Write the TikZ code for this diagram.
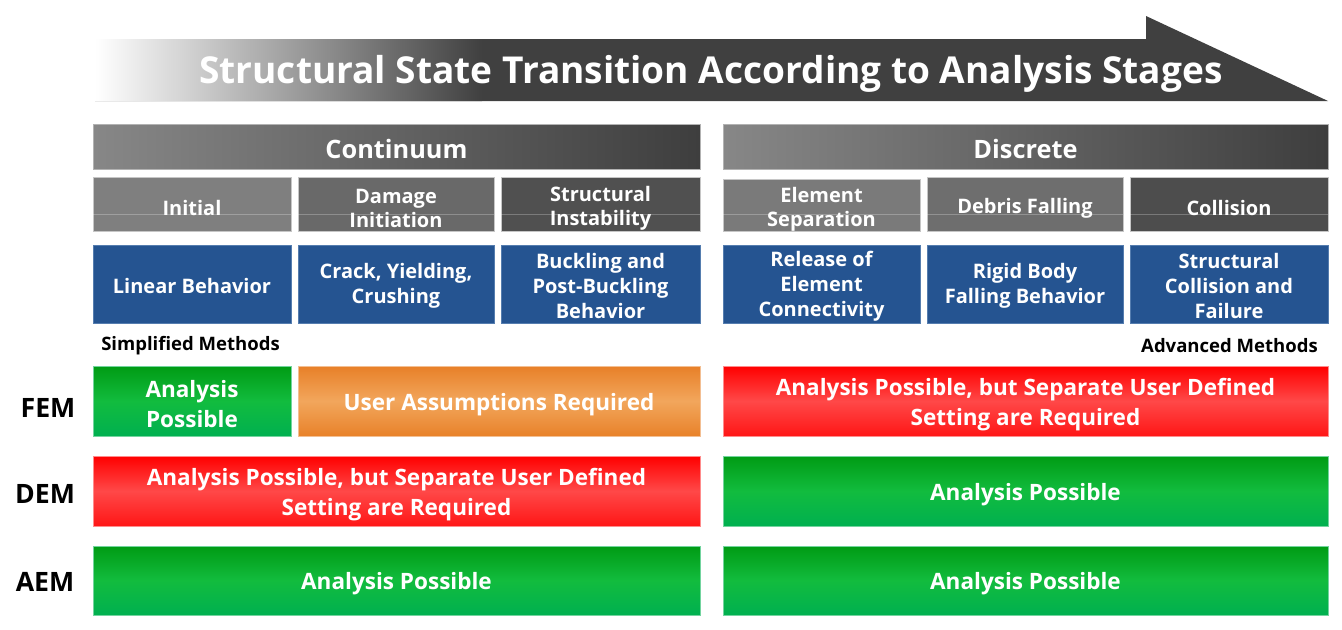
\documentclass[tikz,border=0pt]{standalone}
\usepackage{fontspec}
\setmainfont{Open Sans}
\definecolor{dark}{RGB}{64,64,64}
\definecolor{hdrL}{RGB}{135,135,135}
\definecolor{hdrR}{RGB}{62,62,62}
\definecolor{g1}{RGB}{127,127,127}
\definecolor{g2}{RGB}{105,105,105}
\definecolor{g3}{RGB}{80,80,80}
\definecolor{g4}{RGB}{122,122,122}
\definecolor{g5}{RGB}{110,110,110}
\definecolor{g6}{RGB}{77,77,77}
\definecolor{bluebox}{RGB}{37,84,145}
\definecolor{blueedge}{RGB}{85,125,175}
\definecolor{grT}{RGB}{0,155,20}
\definecolor{grM}{RGB}{18,188,62}
\definecolor{grB}{RGB}{0,176,80}
\definecolor{rdT}{RGB}{255,0,0}
\definecolor{rdM}{RGB}{255,72,72}
\definecolor{rdB}{RGB}{255,22,22}
\definecolor{orT}{RGB}{232,128,40}
\definecolor{orM}{RGB}{242,166,92}
\definecolor{orB}{RGB}{232,130,42}
\begin{document}
\begin{tikzpicture}[x=0.75pt,y=-0.75pt,
  w/.style={minimum width=#1*0.75pt},
  h/.style={minimum height=#1*0.75pt},
  boxbase/.style={rectangle, inner sep=0pt},
  txt/.style={text=white, align=center, inner sep=0pt},
  hdrbox/.style={boxbase, left color=hdrL, right color=hdrR, draw=gray!60, line width=0.4pt,
     label={[txt, font=\bfseries\fontsize{19pt}{22pt}\selectfont, yshift=-1.5pt]center:#1}},
  stagebox/.style={boxbase, draw=gray!45, line width=0.4pt},
  stagetext/.style={label={[txt, font=\bfseries\fontsize{15pt}{18pt}\selectfont, yshift=-3pt]center:#1}},
  behbox/.style={boxbase, fill=bluebox, draw=blueedge, line width=0.5pt,
     label={[txt, font=\bfseries\fontsize{15pt}{18.8pt}\selectfont, yshift=-1.5pt]center:#1}},
  rowtxt/.style={label={[txt, font=\bfseries\fontsize{16.9pt}{22.5pt}\selectfont, yshift=-2.5pt]center:#1}},
  greenbox/.style={boxbase, top color=grT, bottom color=grB, middle color=grM, draw=grB!55!white, line width=0.5pt},
  redbox/.style={boxbase, top color=rdT, bottom color=rdB, middle color=rdM, draw=rdT!45!white, line width=0.5pt},
  orangebox/.style={boxbase, top color=orT, bottom color=orB, middle color=orM, draw=orT!50!white, line width=0.5pt},
  method/.style={font=\bfseries\fontsize{20pt}{24pt}\selectfont, text=black, inner sep=0pt},
  note/.style={font=\bfseries\fontsize{13.9pt}{16pt}\selectfont, text=black, inner sep=0pt},
  gloss/.style={draw=white, opacity=0.25, line width=0.5pt}
]
\useasboundingbox (0,0) rectangle (1342,629);
% title arrow
\begin{scope}
  \clip (95,39) -- (1146,39) -- (1146,16) -- (1328,101) -- (95,101) -- cycle;
  \fill[dark] (90,10) rectangle (1335,110);
  \shade[left color=white, right color=dark] (95,10) rectangle (482,110);
\end{scope}
\node[text=white, font=\bfseries\fontsize{27.8pt}{30pt}\selectfont, inner sep=0pt] (title) at (711,74) {Structural State Transition According to Analysis Stages};

% headers
\node[hdrbox=Continuum, w=607, h=45] (cont) at (396.5,146.5) {};
\node[hdrbox=Discrete, w=605, h=45] (disc) at (1025.5,146.5) {};

% stages
\node[stagebox, fill=g1, w=198, h=54, stagetext=Initial] (init) at (192,204) {};
\node[stagebox, fill=g2, w=196, h=54, stagetext={Damage\\Initiation}] (dmg) at (396,204) {};
\node[stagebox, fill=g3, w=199, h=54, stagetext={Structural\\Instability}] (inst) at (600.5,204) {};
\node[stagebox, fill=g4, w=197, h=52, stagetext={Element\\Separation}] (sep) at (821.5,205) {};
\node[stagebox, fill=g5, w=196, h=54, stagetext={Debris Falling}] (deb) at (1025,204) {};
\node[stagebox, fill=g6, w=198, h=54, stagetext=Collision] (col) at (1229,204) {};
\foreach \n in {init,dmg,inst,sep,deb,col}
  \draw[gloss] (\n.west |- 0,214.5) -- (\n.east |- 0,214.5);

% behaviours
\node[behbox={Linear Behavior}, w=198, h=78] (lin) at (192,284) {};
\node[behbox={Crack, Yielding,\\Crushing}, w=196, h=78] (crk) at (396,284) {};
\node[behbox={Buckling and\\Post-Buckling\\Behavior}, w=199, h=78] (buck) at (600.5,284) {};
\node[behbox={Release of\\Element\\Connectivity}, w=197, h=78] (rel) at (821.5,284) {};
\node[behbox={Rigid Body\\Falling Behavior}, w=196, h=78] (rig) at (1025,284) {};
\node[behbox={Structural\\Collision and\\Failure}, w=198, h=78] (scf) at (1229,284) {};

% notes
\node[note, anchor=west] (simp) at (101,346) {Simplified Methods};
\node[note, anchor=east] (adv) at (1318,346) {Advanced Methods};

% method labels
\node[method] (fem) at (48,408) {FEM};
\node[method] (dem) at (45,494) {DEM};
\node[method] (aem) at (45,582) {AEM};

% FEM row
\node[greenbox, rowtxt={Analysis\\Possible}, w=198, h=70] (femA) at (192,401) {};
\node[orangebox, rowtxt={User Assumptions Required}, w=402, h=70] (femB) at (499,401) {};
\node[redbox, rowtxt={Analysis Possible, but Separate User Defined\\Setting are Required}, w=605, h=70] (femC) at (1025.5,401) {};
% DEM row
\node[redbox, rowtxt={Analysis Possible, but Separate User Defined\\Setting are Required}, w=607, h=70] (demA) at (396.5,491) {};
\node[greenbox, rowtxt={Analysis Possible}, w=605, h=70] (demB) at (1025.5,491) {};
% AEM row
\node[greenbox, rowtxt={Analysis Possible}, w=607, h=69] (aemA) at (396.5,580.5) {};
\node[greenbox, rowtxt={Analysis Possible}, w=605, h=69] (aemB) at (1025.5,580.5) {};
\end{tikzpicture}
\end{document}
